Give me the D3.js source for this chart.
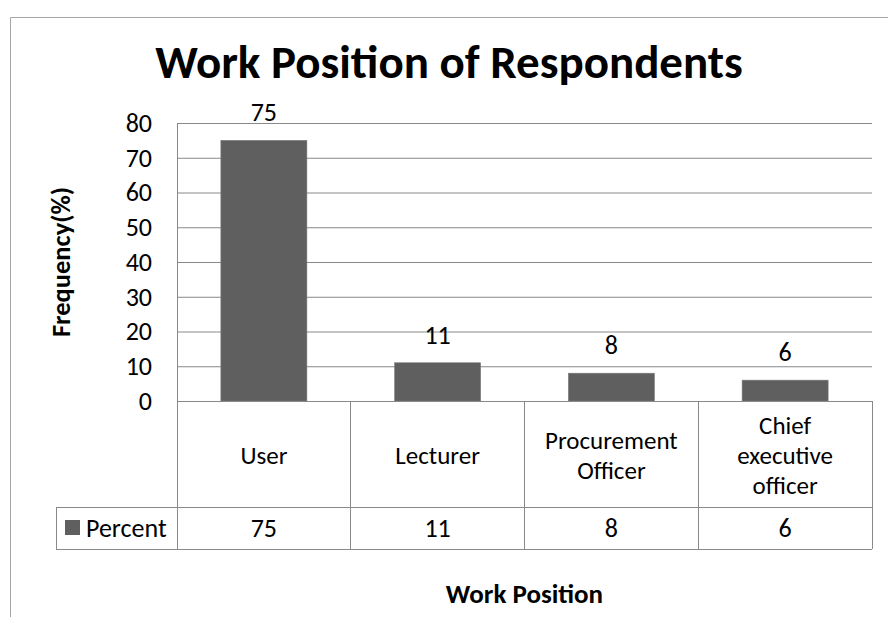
<!DOCTYPE html>
<html>
<head>
<meta charset="utf-8">
<script src="https://cdn.jsdelivr.net/npm/d3@7"></script>
<style>
    body { margin: 0; background: #ffffff; }
    text { font-family: Carlito, Calibri, Lato, sans-serif; fill: #000000; }
</style>
</head>
<body>
<svg id="chart"></svg>
<script>
//values
var categories = ["User", "Lecturer", "Procurement Officer", "Chief executive officer"];
var categoryLines = [["User"], ["Lecturer"], ["Procurement", "Officer"], ["Chief", "executive", "officer"]];
var percentValues = [75, 11, 8, 6];
var yTicks = [0, 10, 20, 30, 40, 50, 60, 70, 80];
var seriesName = "Percent";
var chartTitle = "Work Position of Respondents";
var yTitle = "Frequency(%)";
var xTitle = "Work Position";

function runScript () {

    var width = 888;
    var height = 617;

    //plot area edges
    var plotLeft = 177;
    var plotRight = 872;
    var plotTop = 123;
    var plotBottom = 401;

    //data table under the plot
    var tableLegendLeft = 56;
    var catRowBottom = 507;
    var valRowBottom = 549;
    var lineHeight = 30;

    var fontSize = "26px";
    var catFontSize = "25px";
    var barColor = "#5f5f5f";
    var lineColor = "#898989";

    var svg = d3.select("#chart")
        .attr("width", width)
        .attr("height", height);

    //outer chart frame (only left and top are inside the picture)
    svg.append("path")
        .attr("d", "M10.5," + height + "V17.5H" + (width + 2))
        .attr("fill", "none")
        .attr("stroke", "#a6a6a6")
        .attr("stroke-width", 1);

    var yScale = d3.scaleLinear()
        .domain([0, 80])
        .range([plotBottom, plotTop]);

    //bars sit in the middle half of every column
    var xScale = d3.scaleBand()
        .domain(categories)
        .range([plotLeft, plotRight])
        .paddingInner(0.505)
        .paddingOuter(0.2525);

    //table columns share the same step without padding
    var colScale = d3.scaleBand()
        .domain(categories)
        .range([plotLeft, plotRight]);

    //gridlines
    var grid = svg.append("g")
        .attr("transform", "translate(" + plotLeft + ",0)")
        .call(d3.axisLeft(yScale).tickValues(yTicks).tickSize(-(plotRight - plotLeft)).tickFormat(""));
    grid.select(".domain").remove();
    grid.selectAll("line").attr("stroke", lineColor);

    //tick labels
    var yAxis = svg.append("g")
        .attr("transform", "translate(" + (plotLeft - 25) + ",0)")
        .call(d3.axisLeft(yScale).tickValues(yTicks).tickSize(0).tickPadding(0));
    yAxis.select(".domain").remove();
    yAxis.selectAll("text")
        .style("font-size", fontSize)
        .attr("fill", "#000");

    //bars
    var data = categories.map(function (c, i) {
        return {name: c, value: percentValues[i], lines: categoryLines[i]};
    });

    svg.selectAll(".bars")
        .data(data)
        .enter()
        .append("rect")
        .attr("class", "bars")
        .attr("x", function (d) { return xScale(d.name); })
        .attr("width", xScale.bandwidth())
        .attr("y", function (d) { return yScale(d.value); })
        .attr("height", function (d) { return plotBottom - yScale(d.value); })
        .attr("fill", barColor)
        .attr("stroke", "#7a7a7a")
        .attr("stroke-width", 0.6);

    //value labels above bars
    svg.selectAll(".barLabel")
        .data(data)
        .enter()
        .append("text")
        .attr("class", "barLabel")
        .attr("x", function (d) { return xScale(d.name) + xScale.bandwidth() / 2; })
        .attr("y", function (d) { return yScale(d.value) - 19; })
        .attr("text-anchor", "middle")
        .style("font-size", fontSize)
        .text(function (d) { return d.value; });

    //table lines
    var table = svg.append("g")
        .attr("stroke", lineColor)
        .attr("stroke-width", 1)
        .attr("shape-rendering", "crispEdges");

    table.append("line")
        .attr("x1", plotLeft).attr("x2", plotLeft)
        .attr("y1", plotTop).attr("y2", valRowBottom);
    table.append("line")
        .attr("x1", plotLeft).attr("x2", plotRight)
        .attr("y1", plotBottom).attr("y2", plotBottom);
    table.append("line")
        .attr("x1", tableLegendLeft).attr("x2", plotRight)
        .attr("y1", catRowBottom).attr("y2", catRowBottom);
    table.append("line")
        .attr("x1", tableLegendLeft).attr("x2", plotRight)
        .attr("y1", valRowBottom).attr("y2", valRowBottom);
    table.append("line")
        .attr("x1", tableLegendLeft).attr("x2", tableLegendLeft)
        .attr("y1", catRowBottom).attr("y2", valRowBottom);

    table.selectAll(".colLine")
        .data(categories)
        .enter()
        .append("line")
        .attr("class", "colLine")
        .attr("x1", function (d) { return colScale(d) + colScale.bandwidth(); })
        .attr("x2", function (d) { return colScale(d) + colScale.bandwidth(); })
        .attr("y1", plotBottom)
        .attr("y2", valRowBottom);

    //category names, wrapped like the reference (one text per line)
    var catMid = (plotBottom + catRowBottom) / 2;
    var catLines = [];
    data.forEach(function (d) {
        d.lines.forEach(function (l, i) {
            catLines.push({text: l, i: i, n: d.lines.length, name: d.name});
        });
    });

    svg.selectAll(".catLabel")
        .data(catLines)
        .enter()
        .append("text")
        .attr("class", "catLabel")
        .attr("text-anchor", "middle")
        .style("font-size", catFontSize)
        .attr("x", function (d) { return colScale(d.name) + colScale.bandwidth() / 2; })
        .attr("y", function (d) { return catMid + (d.i - (d.n - 1) / 2) * lineHeight + 10; })
        .text(function (d) { return d.text; });

    //value row
    var valMid = (catRowBottom + valRowBottom) / 2;
    svg.selectAll(".valLabel")
        .data(data)
        .enter()
        .append("text")
        .attr("class", "valLabel")
        .attr("x", function (d) { return colScale(d.name) + colScale.bandwidth() / 2; })
        .attr("y", valMid + 9)
        .attr("text-anchor", "middle")
        .style("font-size", fontSize)
        .text(function (d) { return d.value; });

    //legend key + series name
    svg.append("rect")
        .attr("x", 65)
        .attr("y", valMid - 8)
        .attr("width", 15)
        .attr("height", 15)
        .attr("fill", barColor);

    svg.append("text")
        .attr("x", 86)
        .attr("y", valMid + 9)
        .style("font-size", fontSize)
        .text(seriesName);

    //titles
    svg.append("text")
        .attr("x", 449)
        .attr("y", 78)
        .attr("text-anchor", "middle")
        .style("font-size", "47px")
        .style("font-weight", "bold")
        .text(chartTitle);

    svg.append("text")
        .attr("transform", "translate(70," + ((plotTop + plotBottom) / 2) + ") rotate(-90)")
        .attr("text-anchor", "middle")
        .style("font-size", "26.5px")
        .style("font-weight", "bold")
        .text(yTitle);

    svg.append("text")
        .attr("x", (plotLeft + plotRight) / 2)
        .attr("y", 603)
        .attr("text-anchor", "middle")
        .style("font-size", "27px")
        .style("font-weight", "bold")
        .text(xTitle);
}

window.onload = runScript;
</script>
</body>
</html>
